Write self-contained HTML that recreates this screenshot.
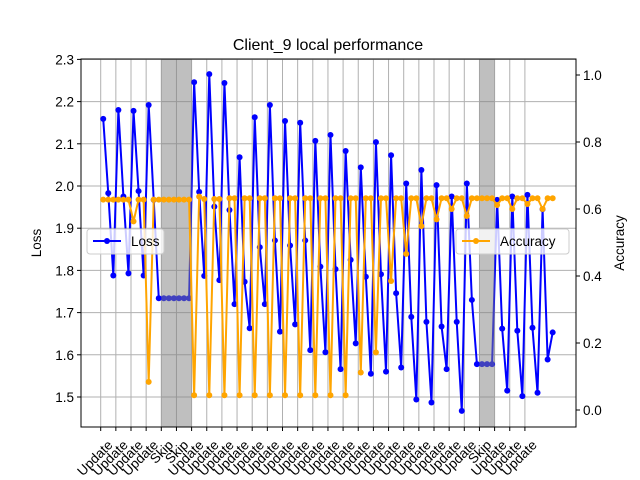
<!DOCTYPE html>
<html><head><meta charset="utf-8"><style>
body{margin:0;background:#fff;}
svg{display:block;font-family:"Liberation Sans","DejaVu Sans",sans-serif;}
</style></head><body>
<svg id="chart" width="640" height="480" viewBox="0 0 640 480" xmlns="http://www.w3.org/2000/svg">
<rect width="640" height="480" fill="#fff"/>
<g id="grid"></g>
<g id="lossg"></g>
<g id="spans"></g>
<g id="accg"></g>
<rect x="81" y="59" width="495" height="368" fill="none" stroke="#000" stroke-width="1"/>
<g id="axes"></g>
<text x="328" y="50" font-size="16" text-anchor="middle">Client_9 local performance</text>
<text transform="translate(41,243) rotate(-90)" font-size="13.5" text-anchor="middle">Loss</text>
<text transform="translate(624,243) rotate(-90)" font-size="13.5" text-anchor="middle">Accuracy</text>
<g>
<rect x="87" y="229" width="77" height="25" rx="3" fill="#fff" fill-opacity="0.8" stroke="#ccc"/>
<line x1="93" y1="241" x2="121" y2="241" stroke="#0000ff" stroke-width="2"/>
<circle cx="107" cy="241" r="3" fill="#0000ff"/>
<text x="131" y="246" font-size="13.5">Loss</text>
</g>
<g>
<rect x="456" y="229" width="113" height="25" rx="3" fill="#fff" fill-opacity="0.8" stroke="#ccc"/>
<line x1="462" y1="241" x2="490" y2="241" stroke="#ffa500" stroke-width="2"/>
<circle cx="476" cy="241" r="3" fill="#ffa500"/>
<text x="500" y="246" font-size="13.5">Accuracy</text>
</g>
</svg>
<script>
const roundLabels = ["Update","Update","Update","Update","Skip","Skip","Update","Update","Update","Update","Update","Update","Update","Update","Update","Update","Update","Update","Update","Update","Update","Update","Update","Update","Update","Skip","Update","Update","Update"];
const skipRounds = [4,5,25];
const lossValues = [2.159,1.983,1.788,2.180,1.975,1.793,2.178,1.988,1.788,2.192,1.967,1.734,
1.734,1.734,1.734,1.734,1.734,1.734,
2.246,1.986,1.787,2.265,1.951,1.777,2.244,1.943,1.720,2.068,1.773,1.663,2.163,1.855,1.720,2.192,1.871,1.655,
2.154,1.859,1.672,2.150,1.871,1.611,2.107,1.809,1.606,2.121,1.803,1.566,2.083,1.825,1.627,2.044,1.785,1.555,
2.104,1.791,1.560,2.073,1.746,1.570,2.006,1.690,1.494,2.038,1.678,1.487,2.002,1.667,1.566,1.975,1.678,1.467,
2.006,1.730,1.578,1.578,1.578,1.578,1.967,1.662,1.515,1.975,1.657,1.502,1.979,1.664,1.510,1.945,1.589,1.653];
const accValues = [0.628,0.628,0.628,0.628,0.628,0.628,0.563,0.628,0.628,0.084,0.628,0.628,
0.628,0.628,0.628,0.628,0.628,0.628,
0.044,0.637,0.630,0.044,0.630,0.630,0.044,0.632,0.632,0.044,0.632,0.632,0.044,0.632,0.632,0.044,0.632,0.632,
0.044,0.632,0.632,0.044,0.632,0.632,0.044,0.632,0.632,0.044,0.632,0.632,0.044,0.632,0.632,0.112,0.632,0.632,
0.172,0.632,0.632,0.385,0.632,0.632,0.466,0.632,0.632,0.549,0.632,0.632,0.569,0.632,0.632,0.600,0.632,0.632,
0.579,0.632,0.632,0.632,0.632,0.632,0.612,0.632,0.632,0.600,0.632,0.632,0.615,0.632,0.632,0.600,0.632,0.632];
const lossTicks = [1.5,1.6,1.7,1.8,1.9,2.0,2.1,2.2,2.3];
const accTicks = [0.0,0.2,0.4,0.6,0.8,1.0];

const NS="http://www.w3.org/2000/svg";
function xs(t){return 100.7+t*15.15;}
function yL(v){return 186-(v-2.0)*422;}
function yA(v){return 410-v*335;}
function mk(tag,attrs,parent){const e=document.createElementNS(NS,tag);for(const k in attrs)e.setAttribute(k,attrs[k]);parent.appendChild(e);return e;}
const grid=document.getElementById('grid'),axes=document.getElementById('axes');
roundLabels.forEach((lab,i)=>{
  const x=xs(i);
  const g=mk('line',{x1:x,x2:x,y1:59,y2:427,stroke:'#b0b0b0','stroke-width':1},grid);
  
  
  const t=mk('line',{x1:x,x2:x,y1:427,y2:431,stroke:'#000'},axes);
  
  
  const tx=mk('text',{transform:`translate(${x+6},${439}) rotate(-45)`,'font-size':13.5,'text-anchor':'end','dominant-baseline':'hanging'},axes);
  tx.textContent=lab;
  
  
});
lossTicks.forEach(v=>{
  const y=yL(v);
  const g=mk('line',{x1:81,x2:576,y1:y,y2:y,stroke:'#b0b0b0','stroke-width':1},grid);
  
  
  const t=mk('line',{x1:77,x2:81,y1:y,y2:y,stroke:'#000'},axes);
  
  
  const tx=mk('text',{x:74,y:y+5,'font-size':13.5,'text-anchor':'end'},axes);
  tx.textContent=v.toFixed(1);
  
  
});
accTicks.forEach(v=>{
  const y=yA(v);
  const t=mk('line',{x1:576,x2:580,y1:y,y2:y,stroke:'#000'},axes);
  
  
  const tx=mk('text',{x:583,y:y+5,'font-size':13.5},axes);
  tx.textContent=v.toFixed(1);
  
  
});
function series(vals,yf,color,parent,name){
  const pts=vals.map((v,j)=>[xs((j+0.5)/3),yf(v)]);
  const pl=mk('polyline',{points:pts.map(p=>p.join(',')).join(' '),fill:'none',stroke:color,'stroke-width':2,'stroke-linejoin':'round'},parent);
  
  
  pts.forEach(p=>{
    const c=mk('circle',{cx:p[0],cy:p[1],r:3,fill:color},parent);
    
    
  });
}
series(lossValues,yL,'#0000ff',document.getElementById('lossg'),'loss');
const spans=document.getElementById('spans');
skipRounds.forEach(r=>{
  const s=mk('rect',{x:xs(r),y:59,width:xs(r+1)-xs(r),height:368,fill:'#808080','fill-opacity':0.5},spans);
  
  
});
series(accValues,yA,'#ffa500',document.getElementById('accg'),'accuracy');
</script>
</body></html>
